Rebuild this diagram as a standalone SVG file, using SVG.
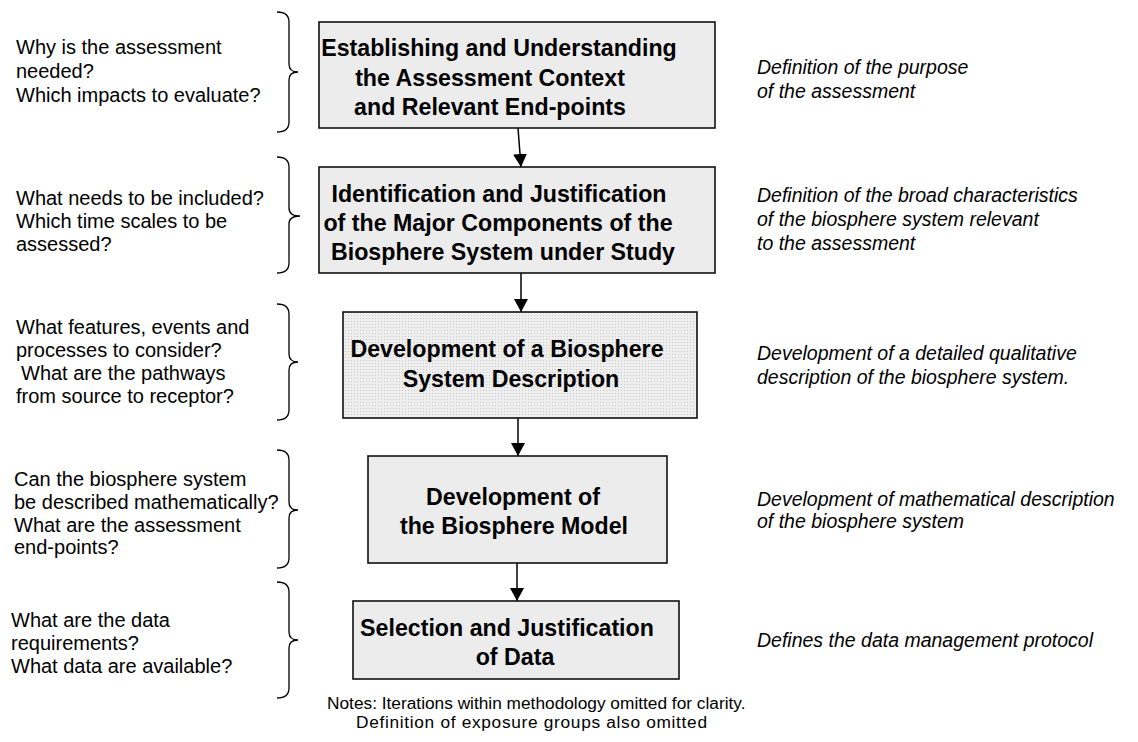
<svg xmlns="http://www.w3.org/2000/svg" width="1138" height="742" viewBox="0 0 1138 742">
<style>
.box{fill:#ececec;stroke:#111;stroke-width:1.6}
.box3{fill:url(#dots);stroke:#111;stroke-width:1.6}
.bt{font-family:"Liberation Sans",Arial,sans-serif;font-size:23.2px;font-weight:bold;fill:#000;text-anchor:middle}
.lt{font-family:"Liberation Sans",Arial,sans-serif;font-size:20px;fill:#000}
.rt{font-family:"Liberation Sans",Arial,sans-serif;font-size:19.5px;font-style:italic;fill:#000}
.nt{font-family:"Liberation Sans",Arial,sans-serif;font-size:17.3px;fill:#000}
.br{fill:none;stroke:#000;stroke-width:1.3}
.cn{fill:none;stroke:#000;stroke-width:1.5}
</style>
<defs>
<pattern id="dots" patternUnits="userSpaceOnUse" width="3" height="3">
<rect width="3" height="3" fill="#eeeeee"/>
<rect width="1" height="1" fill="#c9c9c9"/>
</pattern>
<marker id="ah" markerUnits="userSpaceOnUse" markerWidth="16" markerHeight="14" refX="13" refY="7" orient="auto">
<path d="M0,0 L13,7 L0,14 Z" fill="#000"/>
</marker>
</defs>

<g id="braces">
<path class="br" d="M277,12 Q289,12 289,22 L289,64 Q289,72 298,72 Q289,72 289,80 L289,122 Q289,132 277,132"/>
<path class="br" d="M277,157 Q289,157 289,167 L289,208 Q289,216 300,216 Q289,216 289,224 L289,263 Q289,273 277,273"/>
<path class="br" d="M277,304 Q289,304 289,314 L289,354 Q289,362 298,362 Q289,362 289,370 L289,410 Q289,420 277,420"/>
<path class="br" d="M277,450 Q289,450 289,460 L289,502 Q289,510 298,510 Q289,510 289,518 L289,558 Q289,568 277,568"/>
<path class="br" d="M277,582 Q289,582 289,592 L289,632 Q289,640 298,640 Q289,640 289,648 L289,688 Q289,698 277,698"/>
</g>

<g id="q1">
<text class="lt" x="16" y="54">Why is the assessment</text>
<text class="lt" x="16" y="78">needed?</text>
<text class="lt" x="16" y="102">Which impacts to evaluate?</text>
</g>
<g id="q2">
<text class="lt" x="16" y="205">What needs to be included?</text>
<text class="lt" x="16" y="228">Which time scales to be</text>
<text class="lt" x="16" y="251">assessed?</text>
</g>
<g id="q3">
<text class="lt" x="16" y="334">What features, events and</text>
<text class="lt" x="16" y="357">processes to consider?</text>
<text class="lt" x="21" y="380">What are the pathways</text>
<text class="lt" x="16" y="403">from source to receptor?</text>
</g>
<g id="q4">
<text class="lt" x="14" y="486">Can the biosphere system</text>
<text class="lt" x="14" y="509">be described mathematically?</text>
<text class="lt" x="14" y="532">What are the assessment</text>
<text class="lt" x="14" y="554">end-points?</text>
</g>
<g id="q5">
<text class="lt" x="11" y="627">What are the data</text>
<text class="lt" x="11" y="650">requirements?</text>
<text class="lt" x="11" y="673">What data are available?</text>
</g>

<g id="connectors">
<line class="cn" x1="518" y1="128" x2="521" y2="167" marker-end="url(#ah)"/>
<line class="cn" x1="521" y1="273" x2="521" y2="312" marker-end="url(#ah)"/>
<line class="cn" x1="518" y1="418" x2="518" y2="456" marker-end="url(#ah)"/>
<line class="cn" x1="517" y1="563" x2="517" y2="601" marker-end="url(#ah)"/>
</g>

<g id="n1">
<rect class="box" x="319" y="22" width="396" height="106"/>
<text class="bt" x="499" y="56">Establishing and Understanding</text>
<text class="bt" x="490" y="86">the Assessment Context</text>
<text class="bt" x="490" y="115">and Relevant End-points</text>
</g>
<g id="n2">
<rect class="box" x="319" y="167" width="396" height="106"/>
<text class="bt" x="499" y="202">Identification and Justification</text>
<text class="bt" x="498" y="231">of the Major Components of the</text>
<text class="bt" x="503" y="260">Biosphere System under Study</text>
</g>
<g id="n3">
<rect class="box3" x="343" y="312" width="354" height="106"/>
<text class="bt" x="507" y="357">Development of a Biosphere</text>
<text class="bt" x="511" y="387">System Description</text>
</g>
<g id="n4">
<rect class="box" x="368" y="456" width="299" height="107"/>
<text class="bt" x="513" y="505">Development of</text>
<text class="bt" x="514" y="534">the Biosphere Model</text>
</g>
<g id="n5">
<rect class="box" x="353" y="601" width="326" height="78"/>
<text class="bt" x="507" y="636">Selection and Justification</text>
<text class="bt" x="515" y="665">of Data</text>
</g>

<g id="d1">
<text class="rt" x="757" y="74">Definition of the purpose</text>
<text class="rt" x="757" y="98">of the assessment</text>
</g>
<g id="d2">
<text class="rt" x="757" y="202">Definition of the broad characteristics</text>
<text class="rt" x="757" y="226">of the biosphere system relevant</text>
<text class="rt" x="757" y="250">to the assessment</text>
</g>
<g id="d3">
<text class="rt" x="757" y="360">Development of a detailed qualitative</text>
<text class="rt" x="757" y="384">description of the biosphere system.</text>
</g>
<g id="d4">
<text class="rt" x="757" y="506">Development of mathematical description</text>
<text class="rt" x="757" y="528">of the biosphere system</text>
</g>
<g id="d5">
<text class="rt" x="757" y="647">Defines the data management protocol</text>
</g>

<g id="notes">
<text class="nt" x="327" y="709">Notes: Iterations within methodology omitted for clarity.</text>
<text class="nt" x="356" y="728" textLength="351" lengthAdjust="spacing">Definition of exposure groups also omitted</text>
</g>
</svg>
